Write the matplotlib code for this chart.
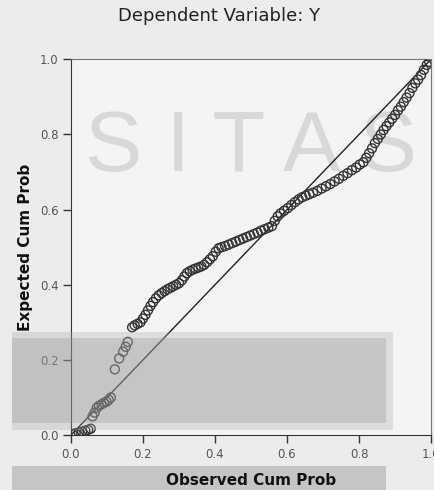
import matplotlib
matplotlib.use("Agg")
import matplotlib.pyplot as plt
from matplotlib.patches import Rectangle

# P-P plot of regression standardized residuals
obs_cum = [0.004, 0.013, 0.022, 0.031, 0.040, 0.048, 0.055, 0.060, 0.066, 0.072,
           0.078, 0.085, 0.092, 0.099, 0.105, 0.111, 0.122, 0.134, 0.145, 0.152,
           0.158, 0.170, 0.177, 0.185, 0.193, 0.200, 0.207, 0.214, 0.221, 0.228,
           0.236, 0.244, 0.252, 0.260, 0.268, 0.276, 0.284, 0.292, 0.300, 0.308,
           0.315, 0.322, 0.330, 0.338, 0.346, 0.354, 0.362, 0.370, 0.378, 0.386,
           0.394, 0.402, 0.410, 0.418, 0.428, 0.438, 0.448, 0.458, 0.468, 0.478,
           0.488, 0.498, 0.508, 0.518, 0.528, 0.538, 0.548, 0.558, 0.566, 0.574,
           0.582, 0.592, 0.602, 0.612, 0.622, 0.632, 0.642, 0.652, 0.662, 0.672,
           0.684, 0.696, 0.708, 0.720, 0.732, 0.744, 0.756, 0.768, 0.780, 0.792,
           0.802, 0.812, 0.820, 0.828, 0.836, 0.844, 0.852, 0.860, 0.868, 0.876,
           0.884, 0.892, 0.900, 0.908, 0.916, 0.924, 0.932, 0.940, 0.948, 0.956,
           0.964, 0.972, 0.980, 0.988, 0.995]
exp_cum = [0.003, 0.005, 0.007, 0.009, 0.012, 0.014, 0.017, 0.050, 0.060, 0.073,
           0.078, 0.082, 0.086, 0.089, 0.094, 0.100, 0.175, 0.204, 0.222, 0.235,
           0.248, 0.287, 0.292, 0.296, 0.300, 0.310, 0.320, 0.332, 0.344, 0.354,
           0.364, 0.372, 0.378, 0.383, 0.388, 0.392, 0.396, 0.400, 0.404, 0.412,
           0.422, 0.431, 0.436, 0.440, 0.443, 0.446, 0.449, 0.453, 0.460, 0.468,
           0.476, 0.488, 0.497, 0.500, 0.503, 0.507, 0.511, 0.515, 0.519, 0.523,
           0.527, 0.531, 0.535, 0.539, 0.544, 0.548, 0.552, 0.556, 0.570, 0.582,
           0.590, 0.597, 0.604, 0.612, 0.620, 0.627, 0.633, 0.637, 0.641, 0.645,
           0.650, 0.656, 0.662, 0.668, 0.675, 0.682, 0.690, 0.697, 0.705, 0.712,
           0.720, 0.726, 0.738, 0.750, 0.763, 0.777, 0.788, 0.800, 0.812, 0.822,
           0.832, 0.842, 0.852, 0.864, 0.874, 0.886, 0.898, 0.910, 0.924, 0.936,
           0.946, 0.958, 0.972, 0.985, 0.993]

ref_line = [0.0, 1.0]
tick_vals = [0.0, 0.2, 0.4, 0.6, 0.8, 1.0]
tick_labels = ["0.0", "0.2", "0.4", "0.6", "0.8", "1.0"]

plt.rcParams['font.family'] = ['DejaVu Sans']

fig = plt.figure(figsize=(4.35, 4.9), dpi=100, facecolor="#ececec")
ax = fig.add_axes([0.163, 0.112, 0.828, 0.767])
ax.set_facecolor("#f4f4f4")

# faint watermark behind the points
ax.text(0.5, 0.76, "S I T A S", transform=ax.transAxes, ha="center", va="center",
        fontsize=62, family="Liberation Sans", color="#d8d8d8", zorder=0.5)

ax.plot(ref_line, ref_line, color="#222222", lw=1.0, zorder=2)
ax.scatter(obs_cum, exp_cum, s=42, facecolors="none", edgecolors="#333333",
           linewidths=1.0, zorder=3)

ax.set_xlim(0, 1)
ax.set_ylim(0, 1)
ax.set_xticks(tick_vals)
ax.set_xticklabels(tick_labels)
ax.set_yticks(tick_vals)
ax.set_yticklabels(tick_labels)
ax.tick_params(direction="out", length=6, width=1, color="#333333",
               labelsize=8.5, labelcolor="#555555", pad=3)
for s in ["left", "bottom"]:
    ax.spines[s].set_color("#333333")
for s in ["top", "right"]:
    ax.spines[s].set_color("#777777")

ax.set_xlabel("Observed Cum Prob", fontsize=11, fontweight="bold", labelpad=9, color="#111111")
ax.set_ylabel("Expected Cum Prob", fontsize=11, fontweight="bold", labelpad=5, color="#111111")
fig.text(0.503, 0.968, "Dependent Variable: Y", ha="center", va="center",
         fontsize=13, color="#222222")

# translucent grey bands laid over the picture
fig.add_artist(Rectangle((12 / 435, 60 / 490), 381 / 435, 98 / 490, transform=fig.transFigure,
                         facecolor="#a8a8a8", alpha=0.3, edgecolor="none", zorder=5))
fig.add_artist(Rectangle((12 / 435, 67 / 490), 374 / 435, 85 / 490, transform=fig.transFigure,
                         facecolor="#909090", alpha=0.3, edgecolor="none", zorder=5))
fig.add_artist(Rectangle((12 / 435, 0), 374 / 435, 24 / 490, transform=fig.transFigure,
                         facecolor="#a0a0a0", alpha=0.5, edgecolor="none", zorder=0))

fig.savefig("out.png", dpi=100, facecolor=fig.get_facecolor())
